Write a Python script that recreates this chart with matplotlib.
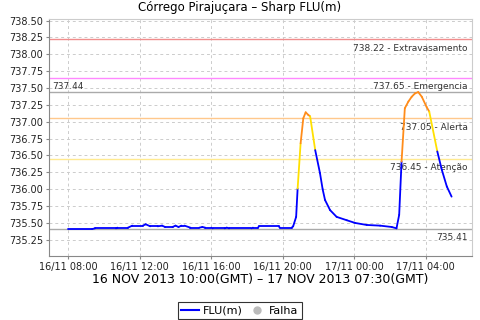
import numpy as np
import pandas as pd
import matplotlib
matplotlib.use('Agg')
import matplotlib.pyplot as plt
import matplotlib.dates as mdates
from matplotlib.lines import Line2D

# leituras FLU(m) - Córrego Pirajuçara
times = ['2013-11-16 08:00', '2013-11-16 09:20', '2013-11-16 09:30', '2013-11-16 10:40',
         '2013-11-16 10:45', '2013-11-16 11:20', '2013-11-16 11:35', '2013-11-16 12:10',
         '2013-11-16 12:20', '2013-11-16 12:35', '2013-11-16 13:00', '2013-11-16 13:15',
         '2013-11-16 13:25', '2013-11-16 13:50', '2013-11-16 14:00', '2013-11-16 14:10',
         '2013-11-16 14:20', '2013-11-16 14:30', '2013-11-16 14:50', '2013-11-16 15:20',
         '2013-11-16 15:30', '2013-11-16 15:40', '2013-11-16 16:00', '2013-11-16 16:05',
         '2013-11-16 16:45', '2013-11-16 16:52', '2013-11-16 17:00', '2013-11-16 18:15',
         '2013-11-16 18:20', '2013-11-16 18:37', '2013-11-16 18:40', '2013-11-16 19:47',
         '2013-11-16 19:50', '2013-11-16 20:30', '2013-11-16 20:35', '2013-11-16 20:45',
         '2013-11-16 20:50', '2013-11-16 21:00', '2013-11-16 21:09', '2013-11-16 21:17',
         '2013-11-16 21:26', '2013-11-16 21:32', '2013-11-16 21:49', '2013-11-16 22:05',
         '2013-11-16 22:14', '2013-11-16 22:22', '2013-11-16 22:39', '2013-11-16 23:01',
         '2013-11-16 23:35', '2013-11-17 00:03', '2013-11-17 00:42', '2013-11-17 01:27',
         '2013-11-17 02:06', '2013-11-17 02:22', '2013-11-17 02:31', '2013-11-17 02:39',
         '2013-11-17 02:50', '2013-11-17 03:02', '2013-11-17 03:13', '2013-11-17 03:24',
         '2013-11-17 03:35', '2013-11-17 03:47', '2013-11-17 04:03', '2013-11-17 04:12',
         '2013-11-17 04:39', '2013-11-17 04:54', '2013-11-17 05:11', '2013-11-17 05:27']
flu = [735.41, 735.41, 735.42, 735.42,
       735.43, 735.43, 735.46, 735.46,
       735.48, 735.45, 735.45, 735.46,
       735.44, 735.44, 735.46, 735.44,
       735.46, 735.46, 735.43, 735.43,
       735.44, 735.43, 735.43, 735.42,
       735.42, 735.43, 735.42, 735.42,
       735.43, 735.43, 735.45, 735.45,
       735.43, 735.43, 735.45, 735.59,
       736.01, 736.68, 737.05, 737.14,
       737.10, 737.08, 736.58, 736.24,
       736.00, 735.84, 735.69, 735.59,
       735.54, 735.50, 735.47, 735.46,
       735.44, 735.42, 735.62, 736.41,
       737.20, 737.30, 737.37, 737.42,
       737.44, 737.37, 737.22, 737.15,
       736.56, 736.29, 736.04, 735.89]

# cotas de referencia
levels = [738.22, 737.65, 737.05, 736.45]
level_names = ['Extravasamento', 'Emergencia', 'Alerta', 'Atenção']
level_colors = ['#f08c8c', '#ff88ff', '#ffc88c', '#ffea90']
max_val = 737.44
min_val = 735.41

t = pd.to_datetime(times)
x = mdates.date2num(t)


def seg_color(v):
    if v < 736.45:
        return '#0000ff'
    if v < 737.05:
        return '#ffe000'
    if v < 737.65:
        return '#ff8c1a'
    return '#ff44ff'


fig = plt.figure(figsize=(4.8, 3.2), dpi=100)
ax = fig.add_axes([0.102, 0.2, 0.881, 0.74])

ax.set_ylim(735.01, 738.52)
ax.set_xlim(mdates.date2num(pd.Timestamp('2013-11-16 06:55')),
            mdates.date2num(pd.Timestamp('2013-11-17 06:35')))

ax.grid(True, color='#cccccc', linestyle=(0, (3, 3)), linewidth=0.7)
ax.set_axisbelow(True)

for lv, nm, c in zip(levels, level_names, level_colors):
    ax.axhline(lv, color=c, linewidth=1.0, zorder=2)
    ax.annotate('%.2f - %s' % (lv, nm), xy=(1, lv), xycoords=('axes fraction', 'data'),
                xytext=(-3, -3), textcoords='offset points', ha='right', va='top',
                fontsize=6.5, color='#333333')

ax.axhline(max_val, color='#aaaaaa', linewidth=1.0, zorder=2)
ax.annotate('%.2f' % max_val, xy=(0, max_val), xycoords=('axes fraction', 'data'),
            xytext=(2, 1), textcoords='offset points', ha='left', va='bottom',
            fontsize=6.5, color='#333333')
ax.axhline(min_val, color='#aaaaaa', linewidth=1.0, zorder=2)
ax.annotate('%.2f' % min_val, xy=(1, min_val), xycoords=('axes fraction', 'data'),
            xytext=(-3, -3), textcoords='offset points', ha='right', va='top',
            fontsize=6.5, color='#333333')

for i in range(1, len(x)):
    ax.plot(x[i-1:i+1], flu[i-1:i+1], color=seg_color(flu[i]), linewidth=1.3,
            solid_capstyle='round', zorder=3)

ax.yaxis.set_major_locator(plt.MultipleLocator(0.25))
ax.yaxis.set_major_formatter(plt.FormatStrFormatter('%.2f'))
ax.xaxis.set_major_locator(mdates.HourLocator(byhour=[0, 4, 8, 12, 16, 20]))
ax.xaxis.set_major_formatter(mdates.DateFormatter('%d/%m %H:%M'))
ax.tick_params(labelsize=7, length=2, color='#888888', pad=2, labelcolor='#222222')

for s in ['left', 'bottom']:
    ax.spines[s].set_color('#888888')
for s in ['top', 'right']:
    ax.spines[s].set_color('#cccccc')

fig.text(0.5, 0.978, 'Córrego Pirajuçara – Sharp FLU(m)', fontsize=8.5,
         ha='center', va='center')
ax.set_xlabel('16 NOV 2013 10:00(GMT) – 17 NOV 2013 07:30(GMT)', fontsize=9, labelpad=1)

handles = [Line2D([], [], color='#0000ff', linewidth=1.5),
           Line2D([], [], marker='o', color='#bbbbbb', linestyle='none', markersize=5)]
leg = fig.legend(handles, ['FLU(m)', 'Falha'], loc='lower center', bbox_to_anchor=(0.5, 0.0),
                 ncol=2, fontsize=8, frameon=True, fancybox=False, handlelength=1.6,
                 handletextpad=0.3, columnspacing=0.5, borderpad=0.3, borderaxespad=0.1)
leg.get_frame().set_edgecolor('black')
leg.get_frame().set_linewidth(0.8)

fig.savefig('out.png', dpi=100)
